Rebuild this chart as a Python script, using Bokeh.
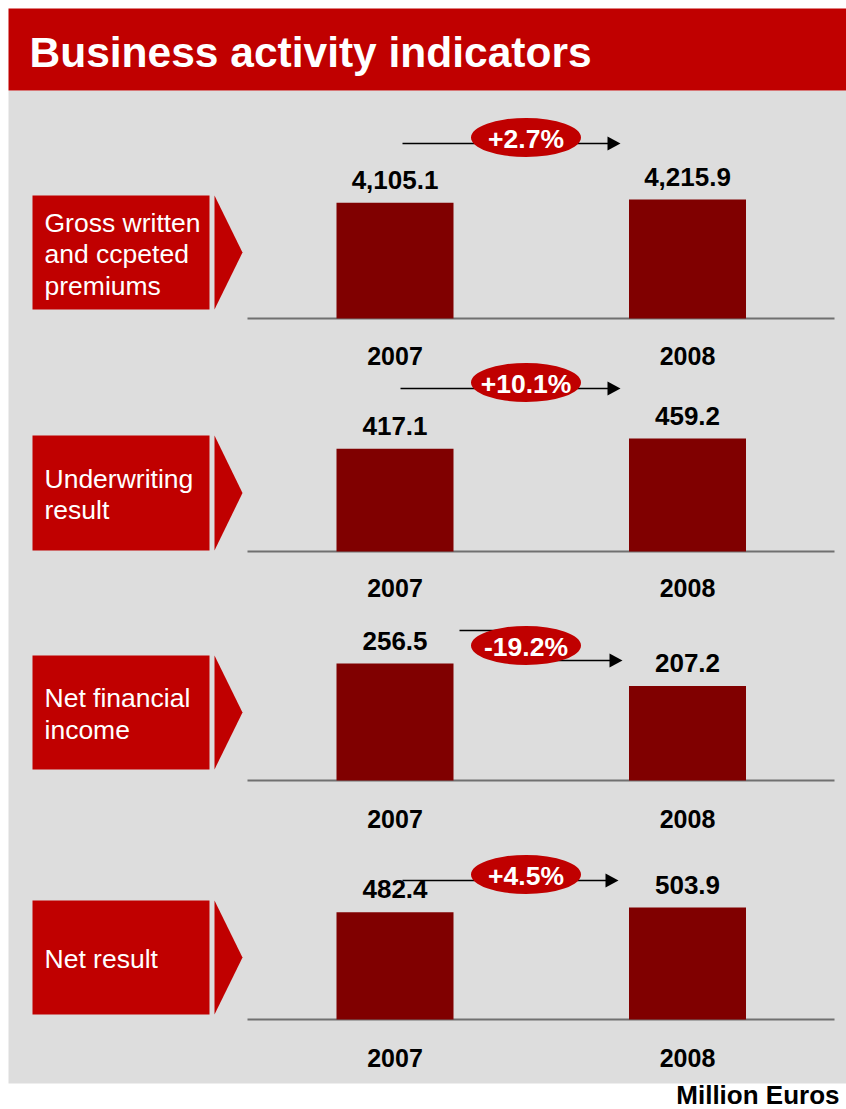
from bokeh.plotting import figure
from bokeh.models import Range1d
from bokeh.core.properties import value
from bokeh.embed import file_html
from bokeh.resources import INLINE

# ---------------- data ----------------
years = [2007, 2008]
year_labels = ["2007", "2008"]
indicators = ["Gross written\nand ccpeted\npremiums", "Underwriting\nresult",
              "Net financial\nincome", "Net result"]
gross_premiums = [4105.1, 4215.9]
underwriting_result = [417.1, 459.2]
net_financial_income = [256.5, 207.2]
net_result = [482.4, 503.9]
series = [gross_premiums, underwriting_result, net_financial_income, net_result]
title_text = "Business activity indicators"
unit_text = "Million Euros"

# ---------------- layout (page pixels) ----------------
W, H = 846, 1109
FONT = value("Liberation Sans")
RED = "#C00000"
BAR = "#800000"
GREY = "#DDDDDD"

panels = [
    dict(base=318, hmax=119, top=195, bot=309, ylab=355, ey=137,
         arrow=[(402, 143), (608, 143)]),
    dict(base=551, hmax=113, top=435, bot=550, ylab=587, ey=382,
         arrow=[(400, 388), (608, 388)]),
    dict(base=780, hmax=117, top=655, bot=769, ylab=818, ey=645,
         arrow=[(459, 630), (505, 630), (505, 660), (610, 660)]),
    dict(base=1019, hmax=112, top=900, bot=1014, ylab=1057, ey=874,
         arrow=[(402, 880), (606, 880)]),
]

p = figure(width=W, height=H, x_range=Range1d(0, W), y_range=Range1d(H, 0),
           output_backend="svg", toolbar_location=None, min_border=0,
           x_axis_location=None, y_axis_location=None)
p.grid.visible = False
p.outline_line_color = None
p.background_fill_color = "white"
p.border_fill_color = "white"

# year axis shared by all panels: 2007 centred at x=394.5, 292.5 px per year
kx = 292.5
cx = 394.5
p.extra_x_ranges["yr"] = Range1d(years[0] - cx / kx, years[0] + (W - cx) / kx)

# background, banner, footer
p.quad(left=8, right=W, top=90, bottom=1083, fill_color=GREY, line_color=None)
p.quad(left=8, right=W, top=8, bottom=90, fill_color=RED, line_color=None)
p.text(x=[29], y=[52], text=[title_text], text_font=FONT, text_font_size="42.5px",
       text_font_style="bold", text_color="white", text_baseline="middle", text_align="left")
p.text(x=[839], y=[1094], text=[unit_text], text_font=FONT, text_font_size="26px",
       text_font_style="bold", text_color="black", text_baseline="middle", text_align="right")

for i, (pan, vals, name) in enumerate(zip(panels, series, indicators)):
    b = pan["base"]
    k = pan["hmax"] / max(vals)
    rn = f"p{i}"
    p.extra_y_ranges[rn] = Range1d((b - H) / k, b / k)

    # label box + pointer
    p.quad(left=32, right=209, top=pan["top"], bottom=pan["bot"], fill_color=RED, line_color=None)
    mid = (pan["top"] + pan["bot"]) / 2
    p.patch(x=[214, 242, 214], y=[pan["top"], mid, pan["bot"]], fill_color=RED, line_color=None)
    p.text(x=[44], y=[mid + 1.5], text=[name], text_font=FONT, text_font_size="26.5px",
           text_color="white", text_baseline="middle", text_align="left", text_line_height=1.05)

    # baseline
    p.segment(x0=[247], x1=[834], y0=[b], y1=[b], line_color="#707070", line_width=2)

    # bars
    p.vbar(x=years, top=vals, bottom=0, width=0.4, fill_color=BAR, line_color=None,
           x_range_name="yr", y_range_name=rn)
    p.text(x=years, y=vals, text=[f"{v:,.1f}" for v in vals], x_range_name="yr",
           y_range_name=rn, y_offset=-23, text_font=FONT, text_font_size="26px",
           text_font_style="bold", text_color="black", text_baseline="middle",
           text_align="center")
    p.text(x=years, y=[pan["ylab"]] * 2, text=year_labels, x_range_name="yr",
           text_font=FONT, text_font_size="25px", text_font_style="bold",
           text_color="black", text_baseline="middle", text_align="center")

    # change arrow
    pts = pan["arrow"]
    p.line(x=[q[0] for q in pts], y=[q[1] for q in pts], line_color="black", line_width=1.6)
    ex, ey = pts[-1]
    p.patch(x=[ex - 1, ex + 12, ex - 1], y=[ey - 7, ey, ey + 7], fill_color="black", line_color=None)
    change = (vals[1] / vals[0] - 1) * 100
    p.ellipse(x=[525.5], y=[pan["ey"]], width=110, height=39, fill_color=RED, line_color=None)
    p.text(x=[525.5], y=[pan["ey"] + 1], text=[f"{change:+.1f}%"], text_font=FONT,
           text_font_size="26.5px", text_font_style="bold", text_color="white",
           text_baseline="middle", text_align="center")

open("out.html", "w").write(file_html(p, INLINE))
